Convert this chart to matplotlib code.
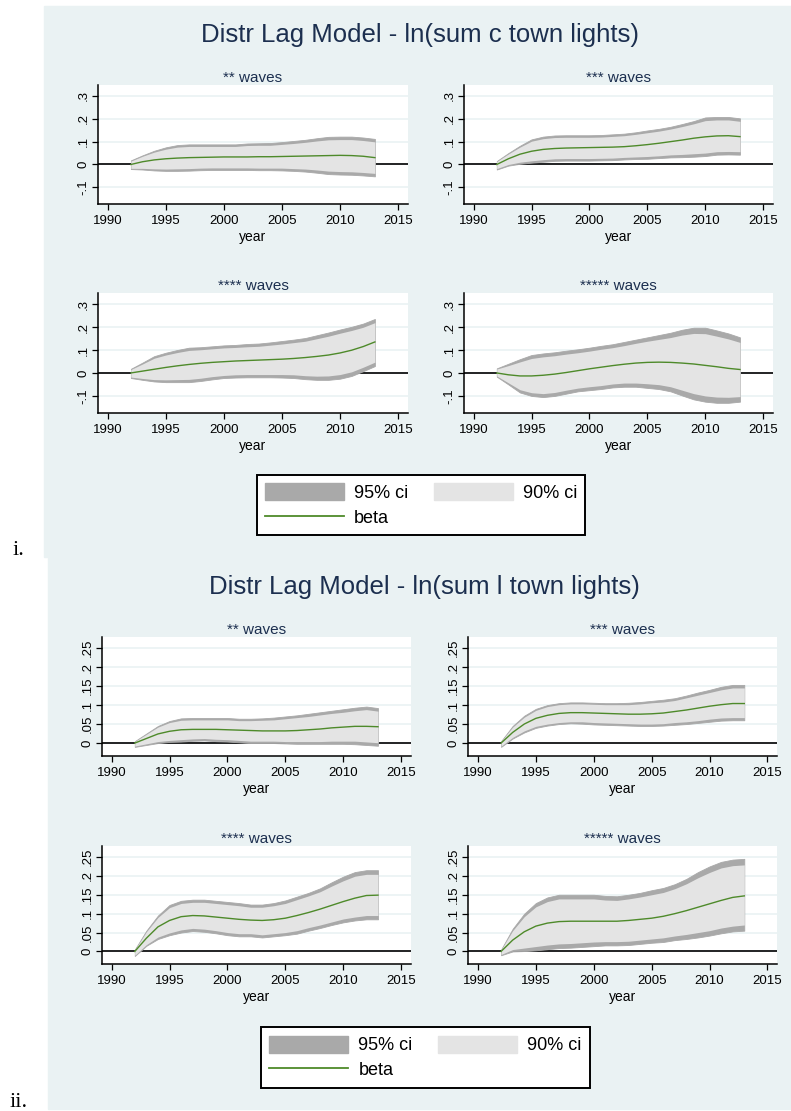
import numpy as np
import matplotlib.pyplot as plt
from matplotlib.patches import Rectangle, Patch
from matplotlib.lines import Line2D

plt.rcParams['font.family'] = ['Liberation Sans', 'DejaVu Sans']

# years covered by the distributed lag estimates
years = list(range(1992, 2014))

# panel i: ln(sum c town lights)
c2_beta = [0.000, 0.012, 0.020, 0.025, 0.028, 0.030, 0.031, 0.032, 0.033, 0.033, 0.033, 0.034, 0.034, 0.035, 0.036, 0.037, 0.038, 0.039, 0.040, 0.039, 0.036, 0.030]
c2_hi95 = [0.018, 0.040, 0.060, 0.075, 0.085, 0.088, 0.088, 0.088, 0.088, 0.088, 0.092, 0.093, 0.094, 0.098, 0.103, 0.108, 0.115, 0.121, 0.122, 0.122, 0.118, 0.112]
c2_hi90 = [0.015, 0.036, 0.054, 0.067, 0.076, 0.079, 0.079, 0.079, 0.079, 0.079, 0.083, 0.084, 0.084, 0.088, 0.092, 0.097, 0.103, 0.108, 0.109, 0.109, 0.105, 0.099]
c2_lo95 = [-0.020, -0.022, -0.026, -0.028, -0.028, -0.027, -0.025, -0.024, -0.024, -0.024, -0.024, -0.025, -0.025, -0.026, -0.028, -0.031, -0.036, -0.042, -0.044, -0.045, -0.048, -0.052]
c2_lo90 = [-0.017, -0.017, -0.019, -0.020, -0.019, -0.018, -0.016, -0.015, -0.015, -0.015, -0.015, -0.016, -0.016, -0.016, -0.018, -0.020, -0.024, -0.029, -0.031, -0.032, -0.035, -0.039]

c3_beta = [0.000, 0.025, 0.045, 0.058, 0.066, 0.070, 0.072, 0.073, 0.074, 0.075, 0.076, 0.078, 0.082, 0.087, 0.093, 0.100, 0.107, 0.115, 0.121, 0.125, 0.126, 0.122]
c3_hi95 = [0.015, 0.050, 0.082, 0.110, 0.122, 0.127, 0.128, 0.128, 0.128, 0.129, 0.132, 0.135, 0.141, 0.149, 0.156, 0.165, 0.177, 0.190, 0.206, 0.208, 0.208, 0.202]
c3_hi90 = [0.013, 0.046, 0.076, 0.102, 0.113, 0.118, 0.119, 0.119, 0.119, 0.120, 0.123, 0.126, 0.132, 0.139, 0.146, 0.155, 0.166, 0.178, 0.192, 0.195, 0.195, 0.189]
c3_lo95 = [-0.022, -0.005, 0.003, 0.008, 0.012, 0.016, 0.017, 0.017, 0.017, 0.018, 0.019, 0.022, 0.024, 0.025, 0.028, 0.031, 0.032, 0.034, 0.037, 0.043, 0.044, 0.043]
c3_lo90 = [-0.018, 0.000, 0.010, 0.016, 0.021, 0.025, 0.026, 0.026, 0.026, 0.027, 0.028, 0.031, 0.033, 0.035, 0.038, 0.042, 0.044, 0.047, 0.050, 0.056, 0.057, 0.056]

c4_beta = [0.000, 0.008, 0.016, 0.024, 0.031, 0.037, 0.042, 0.046, 0.049, 0.052, 0.054, 0.056, 0.058, 0.060, 0.063, 0.067, 0.072, 0.078, 0.087, 0.099, 0.115, 0.135]
c4_hi95 = [0.018, 0.045, 0.073, 0.088, 0.100, 0.110, 0.112, 0.116, 0.120, 0.122, 0.126, 0.128, 0.133, 0.139, 0.145, 0.152, 0.164, 0.176, 0.189, 0.201, 0.215, 0.235]
c4_hi90 = [0.015, 0.039, 0.064, 0.078, 0.089, 0.098, 0.101, 0.105, 0.109, 0.111, 0.114, 0.116, 0.121, 0.126, 0.132, 0.138, 0.149, 0.160, 0.173, 0.185, 0.199, 0.219]
c4_lo95 = [-0.022, -0.030, -0.037, -0.040, -0.040, -0.040, -0.035, -0.028, -0.022, -0.020, -0.019, -0.019, -0.019, -0.020, -0.022, -0.027, -0.030, -0.030, -0.025, -0.013, 0.008, 0.030]
c4_lo90 = [-0.018, -0.024, -0.029, -0.030, -0.029, -0.028, -0.023, -0.016, -0.011, -0.008, -0.007, -0.007, -0.007, -0.007, -0.008, -0.012, -0.014, -0.013, -0.007, 0.005, 0.025, 0.047]

c5_beta = [0.000, -0.008, -0.013, -0.013, -0.010, -0.005, 0.002, 0.010, 0.018, 0.025, 0.032, 0.038, 0.043, 0.046, 0.047, 0.046, 0.043, 0.039, 0.033, 0.027, 0.020, 0.015]
c5_hi95 = [0.020, 0.040, 0.060, 0.078, 0.085, 0.090, 0.097, 0.103, 0.110, 0.118, 0.125, 0.135, 0.145, 0.155, 0.165, 0.175, 0.188, 0.197, 0.197, 0.185, 0.172, 0.155]
c5_hi90 = [0.017, 0.032, 0.048, 0.063, 0.070, 0.075, 0.082, 0.088, 0.095, 0.103, 0.110, 0.119, 0.129, 0.138, 0.146, 0.154, 0.165, 0.172, 0.171, 0.160, 0.148, 0.133]
c5_lo95 = [-0.016, -0.050, -0.085, -0.100, -0.105, -0.100, -0.090, -0.080, -0.075, -0.070, -0.063, -0.060, -0.060, -0.065, -0.070, -0.080, -0.098, -0.115, -0.125, -0.130, -0.130, -0.125]
c5_lo90 = [-0.013, -0.043, -0.073, -0.086, -0.090, -0.085, -0.075, -0.066, -0.060, -0.055, -0.048, -0.044, -0.044, -0.047, -0.051, -0.060, -0.075, -0.090, -0.100, -0.105, -0.106, -0.103]

# panel ii: ln(sum l town lights)
l2_beta = [0.000, 0.012, 0.024, 0.031, 0.035, 0.036, 0.036, 0.036, 0.035, 0.034, 0.033, 0.032, 0.032, 0.032, 0.033, 0.035, 0.037, 0.040, 0.042, 0.044, 0.044, 0.043]
l2_hi95 = [0.005, 0.025, 0.045, 0.058, 0.065, 0.066, 0.066, 0.066, 0.066, 0.064, 0.064, 0.065, 0.067, 0.070, 0.073, 0.077, 0.081, 0.085, 0.089, 0.093, 0.096, 0.092]
l2_hi90 = [0.004, 0.023, 0.042, 0.054, 0.060, 0.061, 0.061, 0.061, 0.061, 0.059, 0.059, 0.060, 0.061, 0.064, 0.067, 0.070, 0.074, 0.078, 0.081, 0.085, 0.088, 0.084]
l2_lo95 = [-0.010, -0.005, 0.000, 0.003, 0.004, 0.006, 0.007, 0.005, 0.004, 0.002, 0.000, 0.000, 0.000, -0.001, -0.002, -0.002, -0.002, -0.002, -0.002, -0.003, -0.005, -0.007]
l2_lo90 = [-0.008, -0.002, 0.004, 0.007, 0.009, 0.011, 0.012, 0.010, 0.009, 0.007, 0.005, 0.005, 0.005, 0.004, 0.004, 0.004, 0.004, 0.005, 0.005, 0.005, 0.003, 0.001]

l3_beta = [0.000, 0.028, 0.050, 0.065, 0.073, 0.078, 0.080, 0.080, 0.079, 0.078, 0.077, 0.076, 0.076, 0.077, 0.079, 0.083, 0.087, 0.092, 0.097, 0.101, 0.104, 0.104]
l3_hi95 = [0.005, 0.045, 0.072, 0.090, 0.100, 0.105, 0.107, 0.107, 0.106, 0.105, 0.105, 0.106, 0.108, 0.111, 0.114, 0.118, 0.125, 0.133, 0.140, 0.148, 0.153, 0.153]
l3_hi90 = [0.004, 0.042, 0.068, 0.086, 0.096, 0.101, 0.103, 0.103, 0.102, 0.101, 0.101, 0.101, 0.103, 0.106, 0.108, 0.112, 0.119, 0.126, 0.133, 0.140, 0.145, 0.145]
l3_lo95 = [-0.010, 0.012, 0.028, 0.040, 0.046, 0.050, 0.052, 0.051, 0.049, 0.048, 0.047, 0.046, 0.045, 0.045, 0.046, 0.048, 0.050, 0.053, 0.056, 0.059, 0.060, 0.060]
l3_lo90 = [-0.008, 0.015, 0.032, 0.044, 0.050, 0.054, 0.056, 0.056, 0.054, 0.053, 0.052, 0.051, 0.050, 0.050, 0.051, 0.054, 0.056, 0.059, 0.063, 0.066, 0.067, 0.067]

l4_beta = [0.000, 0.035, 0.065, 0.082, 0.092, 0.095, 0.094, 0.091, 0.088, 0.085, 0.083, 0.082, 0.084, 0.088, 0.095, 0.103, 0.112, 0.122, 0.132, 0.141, 0.148, 0.149]
l4_hi95 = [0.005, 0.055, 0.095, 0.123, 0.134, 0.137, 0.137, 0.134, 0.131, 0.128, 0.124, 0.124, 0.128, 0.135, 0.145, 0.155, 0.167, 0.183, 0.198, 0.210, 0.215, 0.215]
l4_hi90 = [0.004, 0.052, 0.090, 0.116, 0.127, 0.130, 0.130, 0.127, 0.124, 0.121, 0.117, 0.117, 0.121, 0.127, 0.137, 0.147, 0.158, 0.173, 0.187, 0.199, 0.204, 0.204]
l4_lo95 = [-0.012, 0.015, 0.033, 0.043, 0.050, 0.054, 0.052, 0.048, 0.043, 0.040, 0.040, 0.037, 0.040, 0.043, 0.047, 0.055, 0.062, 0.070, 0.077, 0.082, 0.085, 0.085]
l4_lo90 = [-0.010, 0.018, 0.038, 0.049, 0.057, 0.061, 0.059, 0.055, 0.050, 0.047, 0.047, 0.044, 0.047, 0.050, 0.055, 0.063, 0.070, 0.078, 0.086, 0.091, 0.095, 0.095]

l5_beta = [0.000, 0.030, 0.052, 0.067, 0.075, 0.079, 0.080, 0.080, 0.080, 0.080, 0.080, 0.082, 0.085, 0.088, 0.093, 0.100, 0.108, 0.117, 0.126, 0.135, 0.143, 0.147]
l5_hi95 = [0.005, 0.060, 0.100, 0.128, 0.143, 0.150, 0.150, 0.150, 0.150, 0.147, 0.146, 0.150, 0.155, 0.162, 0.168, 0.178, 0.192, 0.210, 0.225, 0.237, 0.243, 0.245]
l5_hi90 = [0.004, 0.055, 0.092, 0.118, 0.132, 0.139, 0.139, 0.139, 0.139, 0.136, 0.135, 0.139, 0.144, 0.150, 0.156, 0.166, 0.179, 0.195, 0.209, 0.221, 0.227, 0.229]
l5_lo95 = [-0.010, 0.000, 0.001, 0.003, 0.006, 0.009, 0.010, 0.012, 0.014, 0.016, 0.016, 0.017, 0.020, 0.023, 0.025, 0.030, 0.033, 0.037, 0.042, 0.048, 0.053, 0.055]
l5_lo90 = [-0.008, 0.005, 0.009, 0.013, 0.017, 0.020, 0.021, 0.023, 0.025, 0.026, 0.026, 0.027, 0.030, 0.033, 0.036, 0.041, 0.045, 0.050, 0.055, 0.062, 0.067, 0.070]

wave_titles = ['** waves', '*** waves', '**** waves', '***** waves']
c_ticks = [-0.1, 0, 0.1, 0.2, 0.3]
c_ticklabels = ['-.1', '0', '.1', '.2', '.3']
l_ticks = [0, 0.05, 0.1, 0.15, 0.2, 0.25]
l_ticklabels = ['0', '.05', '.1', '.15', '.2', '.25']
x_ticks = [1990, 1995, 2000, 2005, 2010, 2015]

BG = '#EAF2F3'
NAVY = '#1C2F4F'
C95 = '#A9A9A9'
C90 = '#E4E4E4'
GREEN = '#4E8A2A'

W, H = 791, 1111
fig = plt.figure(figsize=(W / 100, H / 100), dpi=100)


def px_axes(x0, y0, x1, y1):
    ax = fig.add_axes([x0 / W, 1 - y1 / H, (x1 - x0) / W, (y1 - y0) / H])
    ax.set_zorder(2)
    return ax


def draw_wave(ax, title, beta, lo95, hi95, lo90, hi90, ticks, ticklabels, ylim):
    ax.set_facecolor('white')
    for t in ticks:
        ax.axhline(t, color=BG, lw=1.2, zorder=0.5)
    ax.axhline(0, color='black', lw=1.2, zorder=1)
    ax.fill_between(years, lo95, hi95, color=C95, lw=0.6, zorder=2)
    ax.fill_between(years, lo90, hi90, color=C90, lw=0, zorder=3)
    ax.plot(years, beta, color=GREEN, lw=1.0, zorder=4)
    ax.set_xlim(1989.17, 2015.85)
    ax.set_ylim(*ylim)
    ax.set_xticks(x_ticks)
    ax.set_yticks(ticks)
    ax.set_yticklabels(ticklabels, rotation=90, va='center')
    ax.tick_params(labelsize=9.5, length=4, width=0.9, pad=2, colors='black')
    ax.tick_params(axis='x', pad=4)
    ax.set_xlabel('year', fontsize=10, labelpad=2)
    ax.set_title(title, fontsize=11, color=NAVY, pad=2)
    for s in ['top', 'right']:
        ax.spines[s].set_visible(False)
    for s in ['left', 'bottom']:
        ax.spines[s].set_color('black')
        ax.spines[s].set_linewidth(1.1)


# panel backgrounds
fig.patches.append(Rectangle((44 / W, 1 - 556.5 / H), (W - 44) / W, 550.5 / H,
                             transform=fig.transFigure, color=BG, zorder=-1))
fig.patches.append(Rectangle((48 / W, 1 - 1108.7 / H), (W - 48) / W, 550.7 / H,
                             transform=fig.transFigure, color=BG, zorder=-1))

legend_handles = [Patch(facecolor=C95, edgecolor=C95), Line2D([], [], color=GREEN, lw=1.3),
                  Patch(facecolor=C90, edgecolor=C90)]
legend_labels = ['95% ci', 'beta', '90% ci']


def add_legend(cx, cy):
    leg = fig.legend(legend_handles, legend_labels, ncol=2, loc='center',
                     bbox_to_anchor=(cx / W, 1 - cy / H), fontsize=13, frameon=True,
                     fancybox=False, edgecolor='black', facecolor='white', framealpha=1,
                     handlelength=4.4, handleheight=1.1, handletextpad=0.55,
                     columnspacing=1.4, borderpad=0.45, labelspacing=0.35)
    leg.get_frame().set_linewidth(1.4)
    leg.set_zorder(3)


# panel i
fig.text(420 / W, 1 - 35 / H, 'Distr Lag Model - ln(sum c town lights)', fontsize=18.5,
         color=NAVY, ha='center', va='center')
c_sets = [(c2_beta, c2_lo95, c2_hi95, c2_lo90, c2_hi90),
          (c3_beta, c3_lo95, c3_hi95, c3_lo90, c3_hi90),
          (c4_beta, c4_lo95, c4_hi95, c4_lo90, c4_hi90),
          (c5_beta, c5_lo95, c5_hi95, c5_lo90, c5_hi90)]
c_boxes = [(98, 85, 408, 204), (464, 85, 773, 204), (98, 293, 408, 412.7), (464, 293, 773, 412.7)]
for box, title, d in zip(c_boxes, wave_titles, c_sets):
    ax = px_axes(*box)
    draw_wave(ax, title, *d, c_ticks, c_ticklabels, (-0.173, 0.348))

add_legend(421, 505)
fig.text(13 / W, 1 - 555 / H, 'i.', fontsize=16, family='Liberation Serif', va='baseline')

# panel ii
fig.text(424 / W, 1 - 587 / H, 'Distr Lag Model - ln(sum l town lights)', fontsize=18.5,
         color=NAVY, ha='center', va='center')
l_sets = [(l2_beta, l2_lo95, l2_hi95, l2_lo90, l2_hi90),
          (l3_beta, l3_lo95, l3_hi95, l3_lo90, l3_hi90),
          (l4_beta, l4_lo95, l4_hi95, l4_lo90, l4_hi90),
          (l5_beta, l5_lo95, l5_hi95, l5_lo90, l5_hi90)]
l_boxes = [(102, 637, 411, 756), (468.3, 637, 777.3, 756), (102, 846, 411, 964.3), (468.3, 846, 777.3, 964.3)]
for box, title, d in zip(l_boxes, wave_titles, l_sets):
    ax = px_axes(*box)
    draw_wave(ax, title, *d, l_ticks, l_ticklabels, (-0.034, 0.279))

add_legend(425.3, 1057.5)
fig.text(10 / W, 1 - 1106.7 / H, 'ii.', fontsize=16, family='Liberation Serif', va='baseline')

fig.savefig('out.png', dpi=100, facecolor='white')
